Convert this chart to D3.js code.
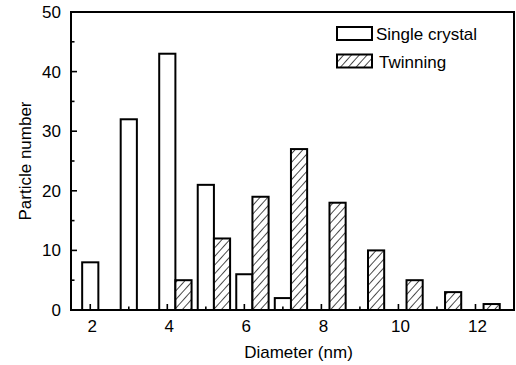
<!DOCTYPE html>
<html>
<head>
<meta charset="utf-8">
<script src="https://cdn.jsdelivr.net/npm/d3@7"></script>
<style>
  body { margin: 0; background: #fff; overflow: hidden; }
  svg { display: block; }
  text { font-family: "Liberation Sans", Arial, sans-serif; fill: #000; }
</style>
</head>
<body>
<div id="chart"></div>
<script>
// diameters (nm) and counts
var singleDiam = [2, 3, 4, 5, 6, 7];
var singleCount = [8, 32, 43, 21, 6, 2];
var twinDiam = [4, 5, 6, 7, 8, 9, 10, 11, 12];
var twinCount = [5, 12, 19, 27, 18, 10, 5, 3, 1];
var xTicks = [2, 4, 6, 8, 10, 12];
var yTicks = [0, 10, 20, 30, 40, 50];

var width = 516, height = 365;
var plotLeft = 71, plotRight = 514, plotTop = 12, plotBottom = 310;

var svg = d3.select('#chart').append('svg')
    .attr('width', width)
    .attr('height', height);

var defs = svg.append('defs');
var pat = defs.append('pattern')
    .attr('id', 'hatch')
    .attr('patternUnits', 'userSpaceOnUse')
    .attr('width', 5.8)
    .attr('height', 5.8)
    .attr('patternTransform', 'rotate(42)');
pat.append('rect').attr('width', 5.8).attr('height', 5.8).attr('fill', '#fff');
pat.append('line')
    .attr('x1', 0).attr('y1', 0).attr('x2', 0).attr('y2', 5.8)
    .attr('stroke', '#000').attr('stroke-width', 1.4);

var x = d3.scaleLinear().domain([1.5, 13]).range([plotLeft, plotRight]);
var y = d3.scaleLinear().domain([0, 50]).range([plotBottom, plotTop]);

var half = 0.21; // half bar width in data units

var singles = singleDiam.map(function (d, i) { return { d: d, v: singleCount[i] }; });
var twins = twinDiam.map(function (d, i) { return { d: d, v: twinCount[i] }; });

svg.selectAll('.single').data(singles).enter().append('rect')
    .attr('class', 'single')
    .attr('x', d => x(d.d - half))
    .attr('y', d => y(d.v))
    .attr('width', d => x(d.d + half) - x(d.d - half))
    .attr('height', d => y(0) - y(d.v))
    .attr('fill', '#fff')
    .attr('stroke', '#000')
    .attr('stroke-width', 2);

svg.selectAll('.twin').data(twins).enter().append('rect')
    .attr('class', 'twin')
    .attr('x', d => x(d.d + half))
    .attr('y', d => y(d.v))
    .attr('width', d => x(d.d + 3 * half) - x(d.d + half))
    .attr('height', d => y(0) - y(d.v))
    .attr('fill', 'url(#hatch)')
    .attr('stroke', '#000')
    .attr('stroke-width', 2);

// inward ticks, minor every 1 on x and 5 on y
var xMinor = d3.range(2, 13, 1);
svg.append('g').selectAll('line').data(xMinor).enter().append('line')
    .attr('x1', d => x(d)).attr('x2', d => x(d))
    .attr('y1', plotBottom)
    .attr('y2', d => plotBottom - (d % 2 === 0 ? 6 : 3.5))
    .attr('stroke', '#000').attr('stroke-width', 1.6);

var yMinor = d3.range(0, 51, 5);
svg.append('g').selectAll('line').data(yMinor).enter().append('line')
    .attr('y1', d => y(d)).attr('y2', d => y(d))
    .attr('x1', plotLeft)
    .attr('x2', d => plotLeft + (d % 10 === 0 ? 6 : 3.5))
    .attr('stroke', '#000').attr('stroke-width', 1.6);

// frame
svg.append('rect')
    .attr('x', plotLeft).attr('y', plotTop)
    .attr('width', plotRight - plotLeft).attr('height', plotBottom - plotTop)
    .attr('fill', 'none').attr('stroke', '#000').attr('stroke-width', 2);

// tick labels
svg.append('g').selectAll('text').data(xTicks).enter().append('text')
    .attr('x', d => x(d) + 2)
    .attr('y', plotBottom + 22)
    .attr('text-anchor', 'middle')
    .style('font-size', '17px')
    .text(d => d);

svg.append('g').selectAll('text').data(yTicks).enter().append('text')
    .attr('x', plotLeft - 10)
    .attr('y', d => y(d) + 6)
    .attr('text-anchor', 'end')
    .style('font-size', '17px')
    .text(d => d);

// axis titles
svg.append('text')
    .attr('x', (plotLeft + plotRight) / 2 + 6)
    .attr('y', 358)
    .attr('text-anchor', 'middle')
    .style('font-size', '17px')
    .text('Diameter (nm)');

svg.append('text')
    .attr('transform', 'translate(31,' + ((plotTop + plotBottom) / 2) + ') rotate(-90)')
    .attr('text-anchor', 'middle')
    .style('font-size', '17px')
    .text('Particle number');

// legend
var legend = [
    { name: 'Single crystal', fill: '#fff' },
    { name: 'Twinning', fill: 'url(#hatch)' }
];
var lg = svg.append('g').attr('transform', 'translate(337,27)');
lg.selectAll('rect').data(legend).enter().append('rect')
    .attr('x', 0)
    .attr('y', (d, i) => i * 27.5)
    .attr('width', 35)
    .attr('height', 13)
    .attr('fill', d => d.fill)
    .attr('stroke', '#000')
    .attr('stroke-width', 2);
lg.selectAll('text').data(legend).enter().append('text')
    .attr('x', (d, i) => i === 0 ? 39 : 42)
    .attr('y', (d, i) => i * 27.5 + 13)
    .style('font-size', '17px')
    .text(d => d.name);
</script>
</body>
</html>
